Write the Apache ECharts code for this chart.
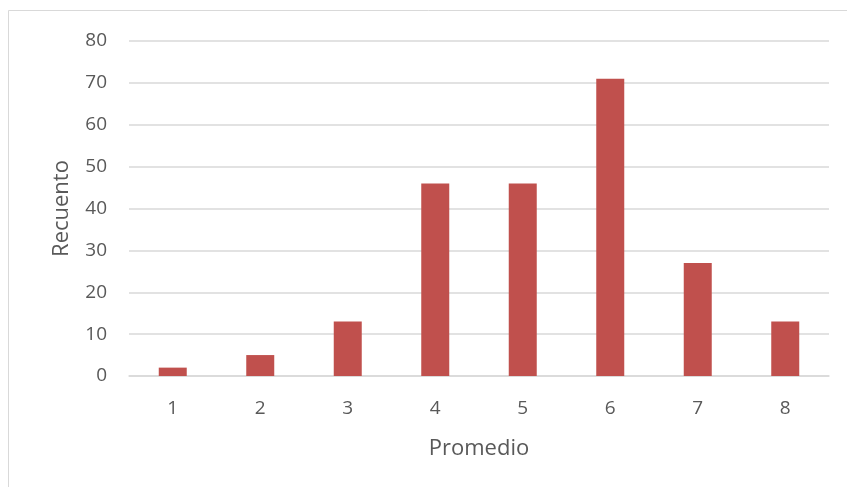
<!DOCTYPE html>
<html>
<head>
<meta charset="utf-8">
<script src="https://cdn.jsdelivr.net/npm/echarts@6/dist/echarts.min.js"></script>
<style>
html,body{margin:0;padding:0;background:#fff;}
#chart{width:847px;height:487px;}
</style>
</head>
<body>
<div id="chart"></div>
<script>
const categories = ['1','2','3','4','5','6','7','8'];
const counts = [2, 5, 13, 46, 46, 71, 27, 13];
const yTicks = [0, 10, 20, 30, 40, 50, 60, 70, 80];
const xTitle = 'Promedio';
const yTitle = 'Recuento';

const chart = echarts.init(document.getElementById('chart'), null, {renderer:'canvas'});
const font = 'Open Sans';
const textColor = '#595959';
chart.setOption({
  animation: false,
  backgroundColor: '#fff',
  graphic: [{
    type: 'rect',
    shape: {x: 8.5, y: 10.5, width: 850, height: 490},
    style: {fill: 'none', stroke: '#d9d9d9', lineWidth: 1},
    silent: true
  }],
  grid: {left: 129, right: 18, top: 41, bottom: 111, containLabel: false},
  xAxis: {
    type: 'category',
    data: categories,
    name: xTitle,
    nameLocation: 'middle',
    nameGap: 62,
    nameTextStyle: {color: textColor, fontFamily: font, fontSize: 22},
    axisLine: {show: true, lineStyle: {color: '#d9d9d9', width: 1.5}},
    axisTick: {show: false},
    axisLabel: {color: textColor, fontFamily: font, fontSize: 19, margin: 23}
  },
  yAxis: {
    type: 'value',
    min: yTicks[0],
    max: yTicks[yTicks.length - 1],
    interval: 10,
    name: yTitle,
    nameLocation: 'middle',
    nameGap: 56,
    nameRotate: 90,
    nameTextStyle: {color: textColor, fontFamily: font, fontSize: 22},
    axisLine: {show: false},
    axisTick: {show: false},
    axisLabel: {color: textColor, fontFamily: font, fontSize: 19, margin: 22},
    splitLine: {lineStyle: {color: '#d9d9d9', width: 1.5}}
  },
  series: [{
    type: 'bar',
    data: counts,
    barWidth: '32%',
    itemStyle: {color: '#C0504D'}
  }]
});
</script>
</body>
</html>
